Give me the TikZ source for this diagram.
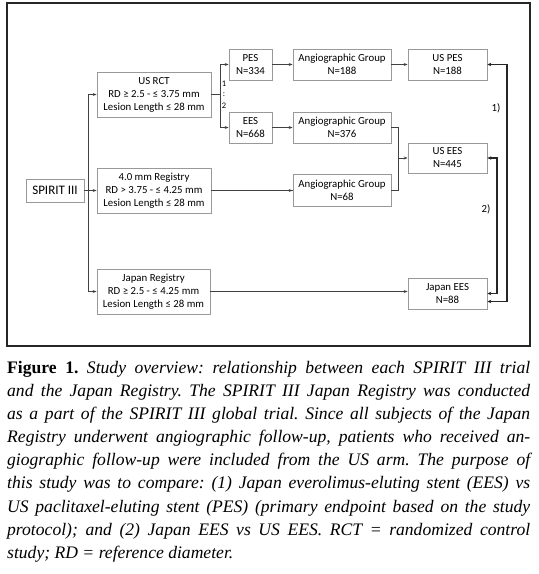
\documentclass[tikz,border=0pt]{standalone}
\usepackage{fontspec}
\setmainfont{Carlito}
\newfontfamily\capfont{Liberation Serif}
\usetikzlibrary{arrows.meta, positioning}

\tikzset{
  box/.style={draw=black!40, line width=0.7pt, fill=white, align=center,
    inner sep=1pt, font=\fontsize{10.8}{13}\selectfont},
  conn/.style={draw=black!75, line width=0.7pt, -{Stealth[length=4pt,width=3pt]}},
  plain/.style={draw=black!75, line width=0.7pt},
  cmp/.style={draw=black!85, {Stealth[length=4pt,width=3.5pt]}-{Stealth[length=4pt,width=3.5pt]}},
  lbl/.style={inner sep=0pt, font=\fontsize{10.8}{12}\selectfont}
}

\begin{document}
\begin{tikzpicture}[x=1pt, y=-1pt]
    \useasboundingbox (0,0) rectangle (539,574);

    % outer frame
    \draw[line width=1.2pt, black!85] (7,3) rectangle (530,346);

    % left column
    \node[box, minimum width=58pt, minimum height=23pt, font=\fontsize{13}{15}\selectfont] (spirit) at (55,190.5) {SPIRIT III};
    \node[box, minimum width=114pt, minimum height=45pt] (usrct) at (154,94.5) {US RCT\\RD ≥ 2.5 - ≤ 3.75 mm\\Lesion Length ≤ 28 mm};
    \node[box, minimum width=114pt, minimum height=45pt] (reg40) at (154,190.5) {4.0 mm Registry\\RD > 3.75 - ≤ 4.25 mm\\Lesion Length ≤ 28 mm};
    \node[box, minimum width=113pt, minimum height=45pt] (jpreg) at (153.5,291.5) {Japan Registry\\RD ≥ 2.5 - ≤ 4.25 mm\\Lesion Length ≤ 28 mm};

    % arms
    \node[box, minimum width=43pt, minimum height=31pt] (pes) at (250.5,64.5) {PES\\N=334};
    \node[box, minimum width=43pt, minimum height=31pt] (ees) at (250.5,127.5) {EES\\N=668};

    % angiographic groups
    \node[box, minimum width=98pt, minimum height=31pt] (angA) at (342,64.5) {Angiographic Group\\N=188};
    \node[box, minimum width=98pt, minimum height=31pt] (angB) at (342,127.5) {Angiographic Group\\N=376};
    \node[box, minimum width=98pt, minimum height=32pt] (angC) at (342,190) {Angiographic Group\\N=68};

    % compared groups
    \node[box, minimum width=79pt, minimum height=31pt] (uspes) at (447.5,64.5) {US PES\\N=188};
    \node[box, minimum width=79pt, minimum height=30pt] (usees) at (447.5,158) {US EES\\N=445};
    \node[box, minimum width=79pt, minimum height=31pt] (jpees) at (447.5,293.5) {Japan EES\\N=88};

    % branch points
    \coordinate (trunk) at (88,0);
    \coordinate (split) at (220,0);
    \coordinate (join) at (398,0);
    \coordinate (rail1) at (507,0);
    \coordinate (rail2) at (497,0);

    % SPIRIT III to studies
    \draw[conn] (spirit) -- (reg40);
    \draw[plain] (trunk |- usrct.west) -- (trunk |- jpreg.west);
    \draw[conn] (trunk |- usrct.west) -- (usrct.west);
    \draw[conn] (trunk |- jpreg.west) -- (jpreg.west);

    % randomization
    \draw[plain] (usrct.east) -- (split |- usrct.east);
    \draw[conn] (split |- usrct.east) |- (pes.west);
    \draw[conn] (split |- usrct.east) |- (ees.west);
    \node[lbl, font=\fontsize{8.5}{9}\selectfont] (r1) at (224,84) {1};
    \node[lbl, font=\fontsize{8.5}{9}\selectfont] (rc) at (224,95) {:};
    \node[lbl, font=\fontsize{8.5}{9}\selectfont] (r2) at (224,106) {2};

    % follow-up
    \draw[conn] (pes) -- (angA);
    \draw[conn] (angA) -- (uspes);
    \draw[conn] (ees) -- (angB);
    \draw[plain] (reg40.east) -- (reg40.east -| angC.west);
    \draw[conn] (reg40.east -| angC.west) ++(-1,0) -- (reg40.east -| angC.west);
    \draw[plain] (angB.east) -| (join |- usees.west);
    \draw[plain] (angC.east) -| (join |- usees.west);
    \draw[conn] (join |- usees.west) -- (usees.west);
    \draw[conn] (jpreg.east) -- (jpreg.east -| jpees.west);

    % comparisons
    \draw[cmp, line width=1.8pt] (uspes.east) -- (uspes.east -| rail1) |- ([yshift=-8pt]jpees.east);
    \draw[cmp, line width=1.3pt] (usees.east) -- (usees.east -| rail2) |- (jpees.east);
    \node[lbl] (c1) at (496,108) {1)};
    \node[lbl] (c2) at (486,209) {2)};

    % caption
    \node[anchor=north west, text width=523pt, inner sep=0pt, align=justify,
      font=\capfont\fontsize{17.6}{23.1}\selectfont] (caption) at (7,361)
      {\frenchspacing\hyphenpenalty=10000\exhyphenpenalty=10000%
      \textbf{Figure 1.} \textit{Study overview: relationship between each SPIRIT III trial\linebreak
      and the Japan Registry. The SPIRIT III Japan Registry was conducted\linebreak
      as a part of the SPIRIT III global trial. Since all subjects of the Japan\linebreak
      Registry underwent angiographic follow-up, patients who received an-\linebreak
      giographic follow-up were included from the US arm. The purpose of\linebreak
      this study was to compare: (1) Japan everolimus-eluting stent (EES) vs\linebreak
      US paclitaxel-eluting stent (PES) (primary endpoint based on the study\linebreak
      protocol); and (2) Japan EES vs US EES. RCT = randomized control\linebreak
      study; RD = reference diameter.}\par};
\end{tikzpicture}
\end{document}
